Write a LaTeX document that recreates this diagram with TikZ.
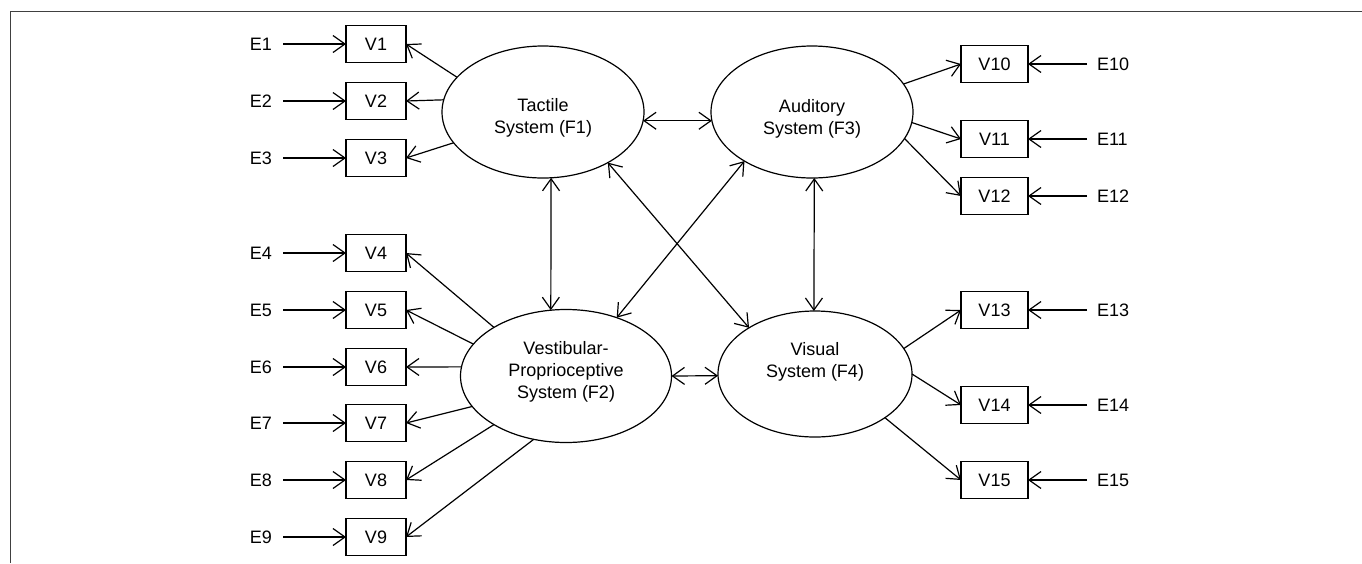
\documentclass[tikz,border=0pt]{standalone}
\usepackage{fontspec}
\setmainfont{Liberation Sans}
\usetikzlibrary{arrows.meta,shapes.geometric}
\begin{document}
\begin{tikzpicture}[x=1pt,y=-1pt,
  every node/.style={font=\fontsize{18}{22}\selectfont},
  tip/.style={},
  ar/.style={line width=1.2pt,-{Straight Barb[length=12pt,width=17pt,line width=1.2pt]}},
  dar/.style={line width=1.2pt,{Straight Barb[length=12pt,width=17pt,line width=1.2pt]}-{Straight Barb[length=12pt,width=17pt,line width=1.2pt]}},
  lbox/.style={draw,line width=1.3pt,minimum width=60pt,minimum height=37pt,inner sep=0pt,outer sep=0pt},
  rbox/.style={lbox,minimum width=67pt},
  ell/.style={draw,ellipse,line width=1.2pt,inner sep=0pt,outer sep=0pt},
  lerr/.style={inner sep=0pt,outer xsep=11pt,outer ysep=0pt,anchor=east},
  rerr/.style={inner sep=0pt,outer xsep=10pt,outer ysep=0pt,anchor=west},
  lbl/.style={align=center,inner sep=0pt}]
\useasboundingbox (0,0) rectangle (1362,563);
\draw[line width=1pt,black!75] (10,563) -- (10,11.5) -- (1362,11.5);

% latent factors
\node[ell,minimum width=202pt,minimum height=132pt] (f1) at (543,112) {};
\node[ell,minimum width=202pt,minimum height=132pt] (f3) at (812,112) {};
\node[ell,minimum width=211pt,minimum height=133pt] (f2) at (566,376) {};
\node[ell,minimum width=194pt,minimum height=126pt] (f4) at (815,374) {};
\node[lbl] (f1t) at (543,118) {Tactile\\System (F1)};
\node[lbl] (f3t) at (812,119) {Auditory\\System (F3)};
\node[lbl] (f2t) at (566,372) {Vestibular-\\Proprioceptive\\System (F2)};
\node[lbl] (f4t) at (815,362) {Visual\\System (F4)};

% left boxes
\foreach \i/\y in {1/44,2/101,3/158,4/253,5/310,6/367,7/423,8/480,9/537}{
  \node[lbox] (v\i) at (376,\y) {V\i};
  \node[lerr] (e\i) at (283,\y) {E\i};
  \draw[ar] (e\i) -- (v\i);
}
% right boxes
\foreach \i/\y in {10/64,11/139,12/196,13/310,14/405,15/480}{
  \node[rbox] (v\i) at (994.5,\y) {V\i};
  \node[rerr] (e\i) at (1087,\y) {E\i};
  \draw[ar] (e\i) -- (v\i);
}

% loadings
\draw[ar] (f1.158.9) -- (v1.east);
\draw[ar] (f1.173.8) -- (v2.east);
\draw[ar] (f1.199.4) -- (v3.east);
\draw[ar] (f2.146.1) -- (v4.east);
\draw[ar] (f2.161.9) -- (v5.east);
\draw[ar] (f2.175.1) -- (v6.east);
\draw[ar] (f2.198.4) -- (v7.east);
\draw[ar] (f2.214.9) -- (v8.east);
\draw[ar] (f2.243.1) -- (v9.east);
\draw[ar] (f3.17.5) -- (v10.west);
\draw[ar] (f3.-6.3) -- (v11.west);
\draw[ar] (f3.-16.9) -- (v12.west);
\draw[ar] (f4.16.7) -- (v13.west);
\draw[ar] (f4.-0.6) -- (v14.west);
\draw[ar] (f4.-32.2) -- (v15.west);

% covariances
\draw[dar] (f1.-5.1) -- (f3.185.1);
\draw[dar] (f1.-83.93) -- (f2.103.68);
\draw[dar] (f1.-38.35) -- (f4.145.9);
\draw[dar] (f2.49.2) -- (f3.216.1);
\draw[dar] (f3.-88.7) -- (f4.91.4);
\draw[dar] (f2.0) -- (f4.181.2);
\end{tikzpicture}
\end{document}
